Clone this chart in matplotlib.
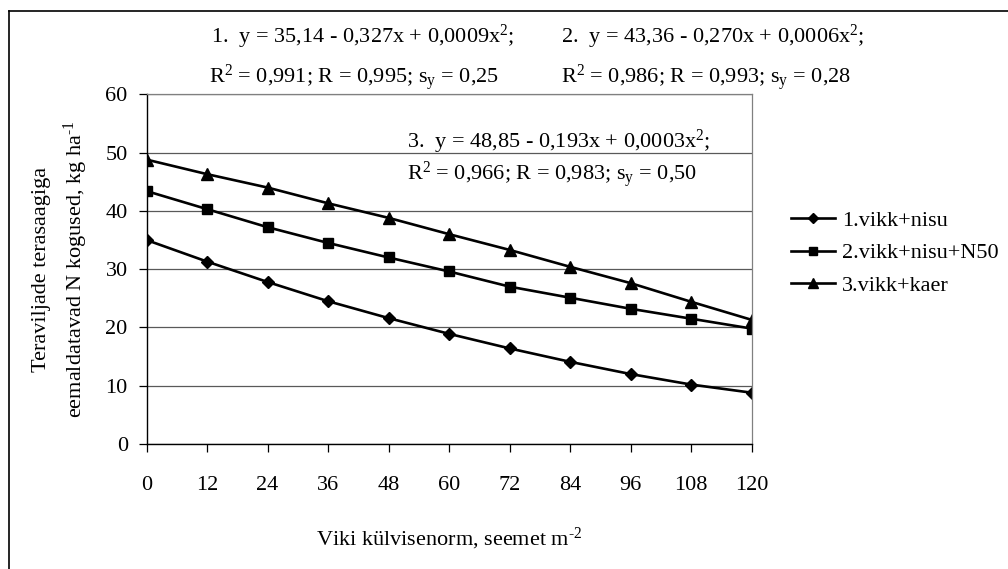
"""Seed rate of vetch vs. N removed with cereal grain yield."""

import matplotlib

matplotlib.use("Agg")
import matplotlib.pyplot as plt
from matplotlib.lines import Line2D

# Data
seed_rate = [0, 12, 24, 36, 48, 60, 72, 84, 96, 108, 120]
vikk_nisu = [35.0, 31.3, 27.8, 24.5, 21.6, 18.9, 16.4, 14.1, 12.0, 10.2, 8.8]
vikk_nisu_n50 = [43.4, 40.3, 37.2, 34.5, 32.0, 29.6, 27.0, 25.1, 23.2, 21.5, 19.8]
vikk_kaer = [48.8, 46.3, 44.0, 41.3, 38.8, 36.0, 33.3, 30.4, 27.6, 24.4, 21.3]

series_labels = ["1.vikk+nisu", "2.vikk+nisu+N50", "3.vikk+kaer"]
y_ticks = [0, 10, 20, 30, 40, 50, 60]

equations = [
    ("1.  y = 35,14 - 0,327x + 0,0009x$^2$;", "R$^2$ = 0,991; R = 0,995; s$_\\mathrm{y}$ = 0,25"),
    ("2.  y = 43,36 - 0,270x + 0,0006x$^2$;", "R$^2$ = 0,986; R = 0,993; s$_\\mathrm{y}$ = 0,28"),
    ("3.  y = 48,85 - 0,193x + 0,0003x$^2$;", "R$^2$ = 0,966; R = 0,983; s$_\\mathrm{y}$ = 0,50"),
]

plt.rcParams["font.family"] = ["Liberation Serif", "DejaVu Serif"]
plt.rcParams["mathtext.fontset"] = "custom"
plt.rcParams["mathtext.rm"] = "Liberation Serif"
plt.rcParams["mathtext.it"] = "Liberation Serif:italic"
plt.rcParams["mathtext.default"] = "regular"

W, H = 1008, 569
fig = plt.figure(figsize=(W / 100, H / 100), dpi=100)
ax = fig.add_axes([146.5 / W, 1 - 444 / H, 605.2 / W, 349.7 / H])

ax.plot(seed_rate, vikk_nisu, color="black", lw=1.9, marker="D", ms=6.5, label=series_labels[0])
ax.plot(seed_rate, vikk_nisu_n50, color="black", lw=1.9, marker="s", ms=6.5, label=series_labels[1])
ax.plot(seed_rate, vikk_kaer, color="black", lw=1.9, marker="^", ms=8, label=series_labels[2])

ax.set_xlim(0, 120)
ax.set_ylim(0, 60)
ax.set_xticks(seed_rate)
ax.set_yticks(y_ticks)
ax.yaxis.grid(True, color="0.35", lw=0.9)
ax.set_axisbelow(True)

for side in ("top", "right"):
    ax.spines[side].set_color("0.5")
    ax.spines[side].set_linewidth(0.9)
for side in ("left", "bottom"):
    ax.spines[side].set_color("black")
    ax.spines[side].set_linewidth(1.0)

ax.tick_params(axis="x", direction="out", length=6, width=0.9, pad=17, labelsize=16)
ax.tick_params(axis="y", direction="out", length=6, width=0.9, pad=7.5, labelsize=16)

ax.set_xlabel("Viki külvisenorm, seemet m$^{\\text{-}2}$", fontsize=16)
ax.xaxis.label.set_va("baseline")
ax.xaxis.set_label_coords(0.5, (444 - 545) / 349.7)

ax.set_ylabel("Teraviljade terasaagiga\neemaldatavad N kogused, kg ha$^{\\text{-}1}$",
              fontsize=16, linespacing=1.55)
ax.yaxis.label.set_va("center")
ax.yaxis.set_label_coords((61 - 146.5) / 605.2, 0.5)

ax.legend(loc="center left", bbox_to_anchor=(782 / W, 1 - 253 / H),
          bbox_transform=fig.transFigure, frameon=False, fontsize=16,
          handlelength=2.0, handletextpad=0.3, labelspacing=0.55, borderaxespad=0,
          markerscale=0.85)

# Regression equations (pixel positions of baselines)
eq_pos = [(211, 43.3, 209, 82.7), (561, 43.3, 561, 82.7), (407, 148.3, 407, 180)]
for (line1, line2), (x1, y1, x2, y2) in zip(equations, eq_pos):
    fig.text(x1 / W, 1 - y1 / H, line1, fontsize=16, va="baseline", ha="left")
    fig.text(x2 / W, 1 - y2 / H, line2, fontsize=16, va="baseline", ha="left")

# Outer chart frame (only left and top edges visible)
fig.add_artist(Line2D([8.5 / W, 8.5 / W], [0, 1 - 10.5 / H], color="black", lw=1.2))
fig.add_artist(Line2D([8.5 / W, 1], [1 - 10.5 / H, 1 - 10.5 / H], color="black", lw=1.2))

fig.savefig("out.png", dpi=100)
